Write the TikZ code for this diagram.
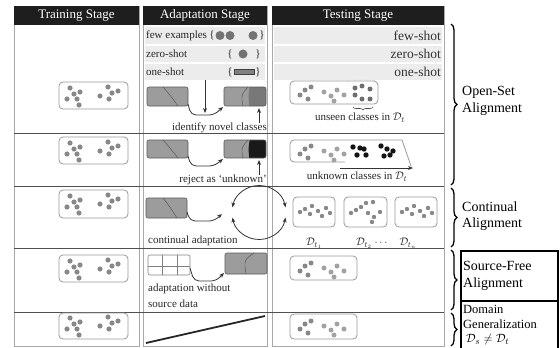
\documentclass[tikz,border=0pt]{standalone}
\usepackage{fontspec}
\setmainfont{Liberation Serif}
\usetikzlibrary{decorations.pathreplacing,arrows.meta}
\definecolor{hdrc}{HTML}{1E1E1E}
\definecolor{rowbg}{HTML}{ECECEC}
\definecolor{colline}{HTML}{A8A8A8}
\definecolor{divline}{HTML}{505050}
\definecolor{dotc}{HTML}{888888}
\definecolor{dotl}{HTML}{A2A2A2}
\definecolor{dotd}{HTML}{6E6E6E}
\definecolor{boxfill}{HTML}{9C9C9C}
\definecolor{boxdark}{HTML}{787878}
\newcommand\trdotsA[2]{%
  \begin{scope}[shift={(#1,#2)}]
  \foreach \p in {(11,6),(21,10),(15,12),(8,17),(18,17),(20,23),(49,5),(59,9),(53,11),(41,14),(50,17)}
    \fill[dotc] \p circle (2.6);
  \end{scope}}
\newcommand\tsdotsAB[2]{%
  \begin{scope}[shift={(#1,#2)}]
  \foreach \p in {(10,3),(15,-2),(21,-5),(18,7)} \fill[dotc] \p circle (2.5);
  \foreach \p in {(34,0),(41,4),(47,-2),(44,9),(54,3)} \fill[dotl] \p circle (2.5);
  \end{scope}}
\begin{document}
\begin{tikzpicture}[x=1pt,y=-1pt,
  hdrtxt/.style={text=white, font=\fontsize{13}{15}\selectfont, inner sep=0pt},
  colframe/.style={draw=colline, line width=0.9pt},
  divider/.style={draw=divline, line width=1pt},
  rowband/.style={fill=rowbg, draw=none},
  smalltxt/.style={font=\fontsize{11}{13}\selectfont, inner sep=0pt, text=black!85},
  testtxt/.style={font=\fontsize{13.5}{15}\selectfont, inner sep=0pt, text=black!80},
  labtxt/.style={font=\fontsize{14}{16.5}\selectfont, align=left, inner sep=0pt},
  dgtxt/.style={font=\fontsize{12.5}{14}\selectfont, inner sep=0pt},
  dbox/.style={draw=black!40, rounded corners=4pt, line width=0.8pt},
  abox/.style={fill=boxfill, draw=black!65, rounded corners=2pt, line width=0.6pt},
  arr/.style={-{Stealth[length=5pt,width=4pt]}, line width=0.8pt, draw=black!80},
  brc/.style={decorate, decoration={brace, amplitude=6pt}, line width=1.3pt},
  framebox/.style={draw=black, line width=1.3pt},
]
\useasboundingbox (0,0) rectangle (560,348);
% columns
\draw[colframe] (14,6) rectangle (139,346);
\draw[colframe] (143,6) rectangle (267,346);
\draw[colframe] (272,6) rectangle (444,346);
% headers
\fill[hdrc] (14,6) rectangle (139,25);
\fill[hdrc] (143,6) rectangle (267,25);
\fill[hdrc] (272,6) rectangle (444,25);
\node[hdrtxt] (h1) at (76.5,15.5) {Training Stage};
\node[hdrtxt] (h2) at (205,15.5) {Adaptation Stage};
\node[hdrtxt] (h3) at (358,15.5) {Testing Stage};
% row bands
\fill[rowband] (145,27) rectangle (265,44);
\fill[rowband] (145,46) rectangle (265,62);
\fill[rowband] (145,64) rectangle (265,80);
\fill[rowband] (274,27) rectangle (442,44);
\fill[rowband] (274,46) rectangle (442,62);
\fill[rowband] (274,64) rectangle (442,80);
\node[smalltxt, anchor=west] (fe) at (146,35.5) {few examples};
\node[smalltxt, anchor=west] (zs) at (146,54) {zero-shot};
\node[smalltxt, anchor=west] (os) at (146,72) {one-shot};
\node[smalltxt] (b1) at (212,35.5) {\{};
\fill[black!55] (220,35.5) circle (4.5);
\fill[black!55] (230,35.5) circle (4.5);
\fill[black!55] (253,35.5) circle (4.5);
\node[smalltxt] (b2) at (262,35.5) {\}};
\node[smalltxt] (b3) at (230,54) {\{};
\fill[black!55] (243,54) circle (4.5);
\node[smalltxt] (b4) at (258,54) {\}};
\node[smalltxt] (b5) at (230,72) {\{};
\draw[fill=black!50, draw=black!75] (234,69.5) rectangle (254,74);
\node[smalltxt] (b6) at (258,72) {\}};
\node[testtxt, anchor=east] (t1) at (441,35.5) {few-shot};
\node[testtxt, anchor=east] (t2) at (441,54) {zero-shot};
\node[testtxt, anchor=east] (t3) at (441,72) {one-shot};
% dividers
\draw[divider] (14,133) -- (444,133);
\draw[divider] (14,186) -- (444,186);
\draw[divider] (14,248) -- (444,248);
\draw[divider] (14,312) -- (444,312);
% training boxes
\draw[dbox] (59,82) rectangle (128,109); \trdotsA{59}{82}
\draw[dbox] (59,137) rectangle (128,164); \trdotsA{59}{137}
\draw[dbox] (59,190) rectangle (128,218); \trdotsA{59}{190}
\draw[dbox] (59,255) rectangle (128,282); \trdotsA{59}{255}
\draw[dbox] (59,313) rectangle (128,339); \trdotsA{59}{312}
% ---- row 1 adaptation
\draw[abox] (147,87) rectangle (188,106);
\draw[black!70] (163,87) .. controls (170,95) .. (178,106);
\begin{scope}
\clip[rounded corners=2pt] (224,87) rectangle (266,106);
\fill[boxfill] (224,87) rectangle (266,106);
\fill[boxdark] (251,80) .. controls (248,95) .. (250,112) -- (270,112) -- (270,80) -- cycle;
\end{scope}
\draw[draw=black!65, rounded corners=2pt, line width=0.6pt] (224,87) rectangle (266,106);
\draw[black!70] (248,87) .. controls (241,95) .. (243,106);
\coordinate (r1a) at (188,104);
\coordinate (r1b) at (223,107);
\draw[arr, rounded corners=5pt] (r1a) -- (191,115) -- (214,115) -- (r1b);
\coordinate (v1a) at (205,80);
\coordinate (v1b) at (205,113);
\draw[arr] (v1a) -- (v1b);
\coordinate (u1a) at (259,123);
\coordinate (u1b) at (259,108);
\draw[arr] (u1a) -- (u1b);
\node[smalltxt, anchor=east] (idn) at (267,128) {identify novel classes};
% ---- row 2 adaptation
\draw[abox] (147,140) rectangle (188,158);
\draw[black!70] (163,140) .. controls (170,148) .. (178,158);
\begin{scope}
\clip[rounded corners=2pt] (224,140) rectangle (266,158);
\fill[boxfill] (224,140) rectangle (266,158);
\fill[black!90] (251,134) .. controls (248,148) .. (250,164) -- (270,164) -- (270,134) -- cycle;
\end{scope}
\draw[draw=black!65, rounded corners=2pt, line width=0.6pt] (224,140) rectangle (266,158);
\draw[black!70] (248,140) .. controls (241,148) .. (243,158);
\coordinate (r2a) at (188,156);
\coordinate (r2b) at (223,159);
\draw[arr, rounded corners=5pt] (r2a) -- (191,166) -- (214,166) -- (r2b);
\coordinate (u2a) at (259,175);
\coordinate (u2b) at (259,160);
\draw[arr] (u2a) -- (u2b);
\node[smalltxt, anchor=east] (rej) at (267,180) {reject as ‘unknown’};
% ---- row 3 adaptation
\draw[abox] (146,198) rectangle (187,218);
\draw[black!70] (163,198) .. controls (170,207) .. (177,218);
\coordinate (r3a) at (187,212);
\coordinate (r3b) at (222,214);
\draw[arr, rounded corners=5pt] (r3a) -- (190,221) -- (214,221) -- (r3b);
\coordinate (cc) at (259,212.5);
\draw[{Stealth[length=5pt,width=4pt]}-{Stealth[length=5pt,width=4pt]}, line width=0.8pt, black!80]
  ([shift={(11:27)}]cc) arc[start angle=11, end angle=169, radius=27];
\draw[{Stealth[length=5pt,width=4pt]}-{Stealth[length=5pt,width=4pt]}, line width=0.8pt, black!80]
  ([shift={(-11:27)}]cc) arc[start angle=-11, end angle=-169, radius=27];
\node[smalltxt, anchor=west] (cad) at (148,241) {continual adaptation};
% ---- row 4 adaptation
\draw[fill=white, draw=black!50, rounded corners=2pt, line width=0.6pt] (148,255) rectangle (190,275);
\draw[black!50] (162,255) -- (162,275) (177,255) -- (177,275) (148,266) -- (190,266);
\draw[abox] (225,253) rectangle (267,274);
\draw[black!70] (254,253) .. controls (244,260) .. (246,274);
\coordinate (r4a) at (190,268);
\coordinate (r4b) at (224,273);
\draw[arr, rounded corners=5pt] (r4a) -- (194,281) -- (216,281) -- (r4b);
\node[smalltxt, anchor=west] (aw1) at (148,289) {adaptation without};
\node[smalltxt, anchor=west] (aw2) at (148,304) {source data};
% ---- row 5 adaptation
\coordinate (l5a) at (146,343);
\coordinate (l5b) at (265,316);
\draw[line width=1.8pt, black!85] (l5a) -- (l5b);
% ---- testing row 1
\draw[dbox] (290,81) rectangle (378,104);
\tsdotsAB{290}{92}
\draw[dotted, black!35, rounded corners=4pt] (347,80) rectangle (377,106);
\foreach \p in {(355,88),(362,86),(370,89),(355,95),(362,99),(370,99)} \fill[dotd] \p circle (2.5);
\draw[decorate, decoration={brace, amplitude=3pt, mirror}, black!70, line width=0.6pt] (353,107) -- (373,107);
\node[smalltxt] (usn) at (360,118) {unseen classes in $\mathcal{D}_t$};
% ---- testing row 2
\draw[draw=black!40, line width=0.8pt, rounded corners=4pt] (402,140) -- (290,140) -- (290,162) -- (345,162);
\draw[draw=black!40, line width=0.8pt] (402,140) -- (411,166);
\tsdotsAB{290}{151}
\foreach \p in {(353,147),(360,148),(357,155),(366,155),(364,149),(381,146),(387,149),(390,155),(384,156),(393,151)}
  \fill[black!92] \p circle (2.7);
\coordinate (ua) at (340,168);
\coordinate (ub) at (413,168);
\draw[arr] (ua) -- (ub);
\node[smalltxt] (unk) at (357,177) {unknown classes in $\mathcal{D}_t$};
% ---- testing row 3
\draw[dbox] (293,197) rectangle (335,227);
\draw[dbox] (344,197) rectangle (387,227);
\draw[dbox] (395,197) rectangle (437,227);
\foreach \p in {(300,212),(305,209),(310,214),(312,206),(318,211),(322,216),(326,208),(330,213)} \fill[dotc] \p circle (2.2);
\foreach \p in {(351,213),(356,210),(361,207),(366,203),(373,202),(368,213),(374,217),(380,212),(372,222)} \fill[dotc] \p circle (2.2);
\foreach \p in {(402,212),(407,209),(412,214),(414,206),(420,211),(424,216),(428,208),(432,213)} \fill[dotc] \p circle (2.2);
\node[smalltxt] (d1) at (314,243) {$\mathcal{D}_{t_1}$};
\node[smalltxt] (d2) at (364,243) {$\mathcal{D}_{t_2}$};
\node[smalltxt] (dd) at (381,243) {$\cdots$};
\node[smalltxt] (d3) at (408,243) {$\mathcal{D}_{t_n}$};
% ---- testing rows 4,5
\draw[dbox] (290,256) rectangle (357,280);
\tsdotsAB{290}{268}
\draw[dbox] (290,314) rectangle (357,339);
\tsdotsAB{290}{326}
% ---- braces and labels
\draw[brc] (451,24) -- (451,185);
\draw[brc] (451,188) -- (451,247);
\draw[brc] (451,250) -- (451,310);
\draw[brc] (451,313) -- (451,346);
\node[labtxt, anchor=west] (los) at (462,101) {Open-Set\\Alignment};
\node[labtxt, anchor=west] (lca) at (462,216) {Continual\\Alignment};
\draw[framebox] (461,251) rectangle (558,301);
\draw[framebox] (461,301) rectangle (558,351);
\node[labtxt, anchor=west] (lsf) at (463,276) {Source-Free\\Alignment};
\node[dgtxt, anchor=west] (ldg1) at (463,309.5) {Domain};
\node[dgtxt, anchor=west] (ldg2) at (463,324.5) {Generalization};
\node[dgtxt, anchor=west] (ldg3) at (466,339.5) {$\mathcal{D}_s\neq\mathcal{D}_t$};
\end{tikzpicture}
\end{document}
